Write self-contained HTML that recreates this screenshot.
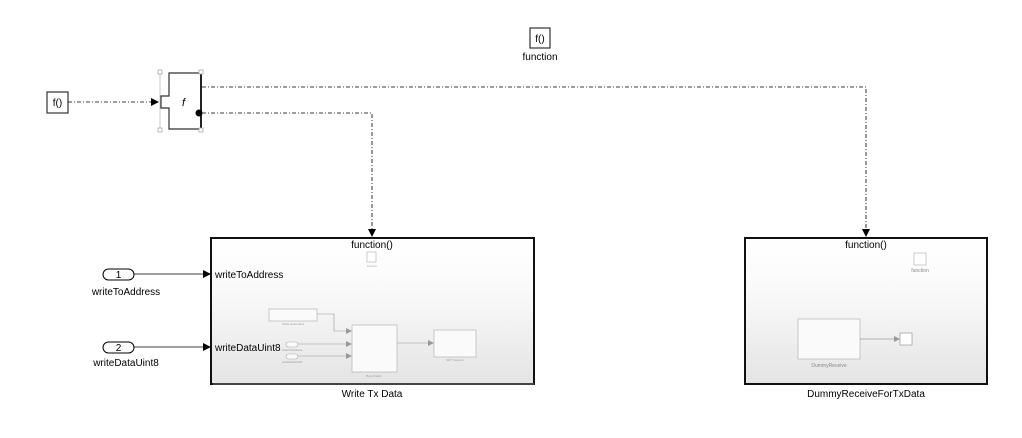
<!DOCTYPE html>
<html><head><style>body{margin:0;background:#fff}svg{display:block}text{font-family:"Liberation Sans",sans-serif}</style></head><body>
<svg width="1022" height="438" viewBox="0 0 1022 438" xmlns="http://www.w3.org/2000/svg">
<defs>
<linearGradient id="g" x1="0" y1="0" x2="0" y2="1"><stop offset="0" stop-color="#fff"/><stop offset="0.35" stop-color="#fafafa"/><stop offset="1" stop-color="#e4e4e4"/></linearGradient>
<marker id="a" markerWidth="8" markerHeight="8" refX="7" refY="4" orient="auto" markerUnits="userSpaceOnUse"><path d="M0,0 L8,4 L0,8z" fill="#000"/></marker>
<marker id="s" markerWidth="6" markerHeight="6" refX="5" refY="3" orient="auto" markerUnits="userSpaceOnUse"><path d="M0,0 L6,3 L0,6z" fill="#999"/></marker>
</defs>
<!-- top f() -->
<rect x="530" y="28" width="20" height="20" fill="#fff" stroke="#333" stroke-width="1.2"/>
<text x="540" y="42" font-size="10" text-anchor="middle">f()</text>
<text x="540" y="60" font-size="10" text-anchor="middle">function</text>
<!-- left f() -->
<rect x="47" y="92" width="21" height="21" fill="#fff" stroke="#333" stroke-width="1.2"/>
<text x="57.5" y="106" font-size="10" text-anchor="middle">f()</text>
<g stroke="#000" fill="none" stroke-width="0.8" stroke-dasharray="4,2,1,2">
<line x1="68" y1="102" x2="158" y2="102" marker-end="url(#a)"/>
<polyline points="202,87 866,87 866,236" marker-end="url(#a)"/>
<polyline points="202,113 372,113 372,236" marker-end="url(#a)"/>
</g>
<!-- split block -->
<line x1="160" y1="72" x2="160" y2="130" stroke="#bbb" stroke-width="0.8"/>
<path d="M169,73 L201,73 L201,129 L169,129 L169,108 L161,108 L161,96 L169,96 Z" fill="#fff" stroke="#333" stroke-width="1.2"/>
<line x1="201" y1="73" x2="201" y2="129" stroke="#222" stroke-width="2"/>
<text x="182" y="106" font-size="11" font-style="italic" font-family="Liberation Serif">f</text>
<circle cx="199" cy="113" r="3.5" fill="#000"/>
<g fill="#fff" stroke="#aaa" stroke-width="0.8">
<rect x="158" y="70" width="4" height="4"/><rect x="199" y="70" width="4" height="4"/>
<rect x="158" y="128" width="4" height="4"/><rect x="199" y="128" width="4" height="4"/>
</g>
<!-- inports -->
<rect x="103" y="269" width="31" height="11" rx="5.5" fill="#fff" stroke="#000" stroke-width="1"/>
<text x="118.5" y="278" font-size="10" text-anchor="middle">1</text>
<text x="126" y="295" font-size="10" text-anchor="middle">writeToAddress</text>
<rect x="103" y="342" width="31" height="11" rx="5.5" fill="#fff" stroke="#000" stroke-width="1"/>
<text x="118.5" y="351" font-size="10" text-anchor="middle">2</text>
<text x="126" y="366" font-size="10" text-anchor="middle">writeDataUint8</text>
<line x1="134" y1="274" x2="210" y2="274" stroke="#000" stroke-width="0.8" marker-end="url(#a)"/>
<line x1="134" y1="347" x2="210" y2="347" stroke="#000" stroke-width="0.8" marker-end="url(#a)"/>
<!-- Write Tx Data -->
<rect x="211" y="238" width="323" height="146" fill="url(#g)" stroke="#111" stroke-width="2"/>
<line x1="213" y1="384" x2="534" y2="384" stroke="#555" stroke-width="1.5"/>
<text x="372" y="248" font-size="10" text-anchor="middle">function()</text>
<rect x="367" y="252" width="9" height="10" fill="#fff" stroke="#aaa" stroke-width="0.6"/>
<text x="372" y="267" font-size="3" fill="#aaa" text-anchor="middle">function</text>
<text x="215" y="278" font-size="10">writeToAddress</text>
<text x="215" y="351" font-size="10">writeDataUint8</text>
<g fill="#fafafa" stroke="#aaa" stroke-width="0.6">
<rect x="269" y="309" width="48" height="12"/>
<rect x="352" y="325" width="45" height="47"/>
<rect x="434" y="330" width="42" height="27"/>
<rect x="286" y="342" width="12" height="5" rx="2.5"/>
<rect x="286" y="354" width="12" height="5" rx="2.5"/>
</g>
<g stroke="#999" stroke-width="0.6" fill="none">
<polyline points="317,314 334,314 334,331 351,331" marker-end="url(#s)"/>
<line x1="298" y1="344" x2="351" y2="344" marker-end="url(#s)"/>
<line x1="298" y1="356" x2="351" y2="356" marker-end="url(#s)"/>
<line x1="397" y1="343" x2="433" y2="343" marker-end="url(#s)"/>
</g>
<g font-size="3" fill="#999" text-anchor="middle">
<text x="293" y="325">Write Command</text><text x="374" y="377">Byte Pack1</text><text x="455" y="361">SPI Transmit</text>
<text x="292" y="351">writeToAddress</text><text x="292" y="363">writeDataUint8</text>
</g>
<text x="372" y="397" font-size="10" text-anchor="middle">Write Tx Data</text>
<!-- Dummy -->
<rect x="745" y="238" width="242" height="146" fill="url(#g)" stroke="#111" stroke-width="2"/>
<text x="866" y="248" font-size="10" text-anchor="middle">function()</text>
<rect x="914" y="253" width="12" height="12" fill="#fff" stroke="#aaa" stroke-width="0.6"/>
<text x="920" y="272" font-size="5" fill="#888" text-anchor="middle">function</text>
<rect x="798" y="319" width="62" height="40" fill="#fafafa" stroke="#aaa" stroke-width="0.6"/>
<text x="829" y="367" font-size="5" fill="#888" text-anchor="middle">DummyReceive</text>
<line x1="860" y1="339" x2="899" y2="339" stroke="#777" stroke-width="0.6" marker-end="url(#s)"/>
<rect x="900" y="333" width="12" height="12" fill="#fff" stroke="#888" stroke-width="0.6"/>
<text x="866" y="397" font-size="10" text-anchor="middle">DummyReceiveForTxData</text>
</svg>
</body></html>
